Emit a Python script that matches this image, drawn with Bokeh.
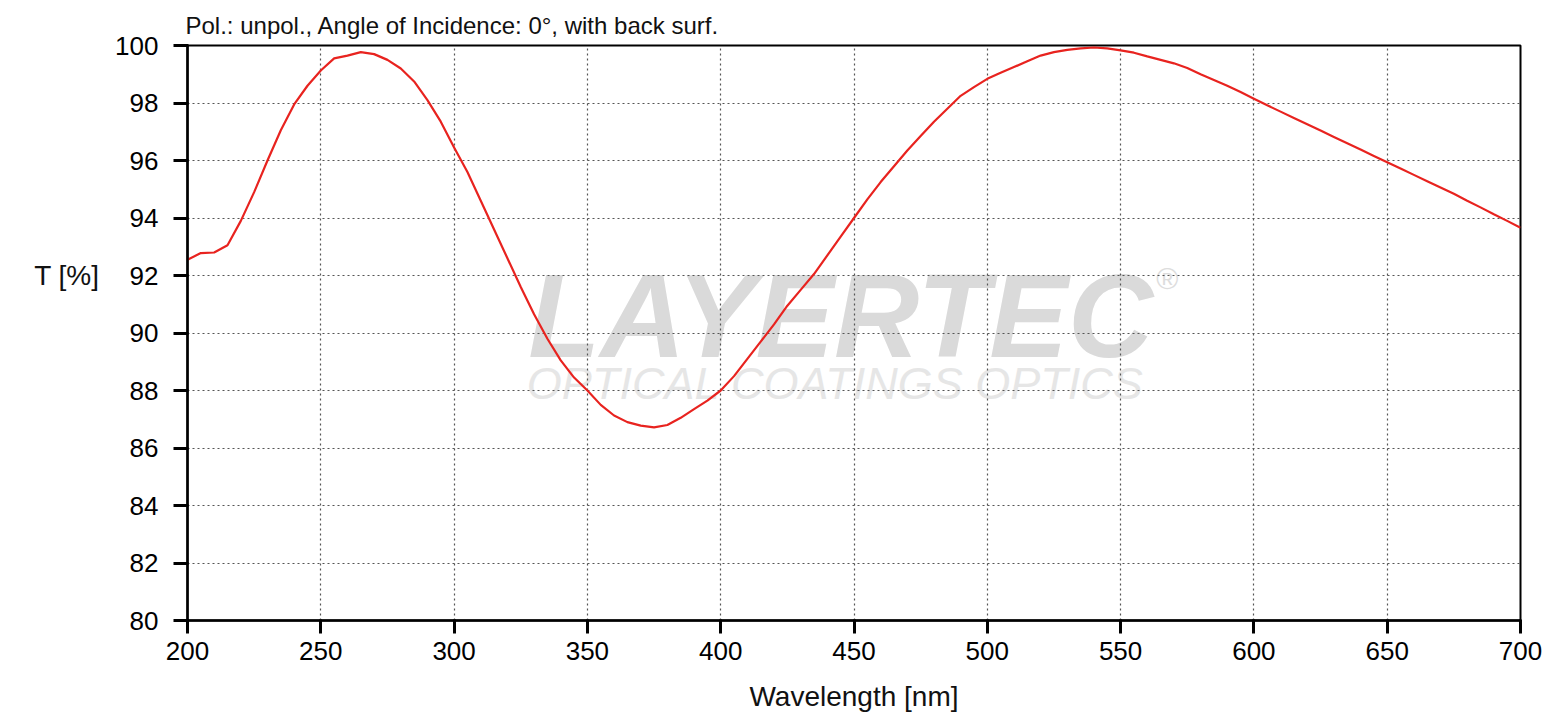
from bokeh.plotting import figure
from bokeh.models import Range1d, FixedTicker, Label, ColumnDataSource, LinearAxis
from bokeh.embed import file_html
from bokeh.resources import INLINE

# ---- data ----
wavelength = [200, 205, 210, 215, 220, 225, 230, 235, 240, 245,
              250, 255, 260, 265, 270, 275, 280, 285, 290, 295,
              300, 305, 310, 315, 320, 325, 330, 335, 340, 345,
              350, 355, 360, 365, 370, 375, 380, 385, 390, 395,
              400, 405, 410, 415, 420, 425, 430, 435, 440, 445,
              450, 455, 460, 465, 470, 475, 480, 485, 490, 495,
              500, 505, 510, 515, 520, 525, 530, 535, 540, 545,
              550, 555, 560, 565, 570, 575, 580, 585, 590, 595,
              600, 605, 610, 615, 620, 625, 630, 635, 640, 645,
              650, 655, 660, 665, 670, 675, 680, 685, 690, 695, 700]
transmission = [92.55, 92.78, 92.80, 93.05, 93.90, 94.90, 96.00, 97.05, 97.95, 98.60,
                99.13, 99.55, 99.65, 99.77, 99.70, 99.50, 99.20, 98.75, 98.10, 97.35,
                96.45, 95.60, 94.60, 93.60, 92.60, 91.60, 90.65, 89.80, 89.05, 88.45,
                88.00, 87.50, 87.13, 86.90, 86.78, 86.72, 86.80, 87.05, 87.35, 87.65,
                88.00, 88.50, 89.10, 89.70, 90.30, 90.95, 91.50, 92.05, 92.70, 93.35,
                94.00, 94.65, 95.25, 95.80, 96.35, 96.85, 97.35, 97.80, 98.25, 98.55,
                98.84, 99.05, 99.25, 99.45, 99.65, 99.77, 99.85, 99.90, 99.93, 99.90,
                99.83, 99.75, 99.62, 99.50, 99.38, 99.22, 99.00, 98.80, 98.60, 98.38,
                98.15, 97.92, 97.70, 97.48, 97.26, 97.04, 96.82, 96.60, 96.38, 96.16,
                95.94, 95.72, 95.50, 95.28, 95.06, 94.84, 94.60, 94.37, 94.13, 93.90, 93.66]
x_ticks = [200, 250, 300, 350, 400, 450, 500, 550, 600, 650, 700]
y_ticks = [80, 82, 84, 86, 88, 90, 92, 94, 96, 98, 100]
title_text = "Pol.: unpol., Angle of Incidence: 0°, with back surf."
x_label = "Wavelength [nm]"
y_label = "T [%]"
y_label_at = 92

FONT = "Liberation Sans"

p = figure(width=1553, height=714, output_backend="svg", toolbar_location=None,
           x_range=Range1d(200, 700), y_range=Range1d(80, 100),
           min_border_left=187, min_border_right=33, min_border_top=45,
           min_border_bottom=94)
p.background_fill_color = "white"
p.border_fill_color = "white"
p.outline_line_color = "black"
p.outline_line_width = 2

# title
p.title.text = title_text
p.title.align = "left"
p.title.text_font = FONT
p.title.text_font_size = "24px"
p.title.text_font_style = "normal"
p.title.text_color = "#111111"
p.title.standoff = 14
p.title.offset = -2

# grid
for g in (p.xgrid, p.ygrid):
    g.grid_line_color = "#555555"
    g.grid_line_dash = "2 3"
    g.grid_line_width = 1.2
p.xgrid.ticker = FixedTicker(ticks=x_ticks)
p.ygrid.ticker = FixedTicker(ticks=y_ticks)

# axes
xax = p.xaxis[0]
yax = p.yaxis[0]
xax.ticker = FixedTicker(ticks=x_ticks)
yax.ticker = FixedTicker(ticks=y_ticks)
for ax in (xax, yax):
    ax.axis_line_color = "black"
    ax.axis_line_width = 2.5
    ax.major_tick_line_color = "#000000"
    ax.major_tick_line_alpha = 1.0
    ax.major_tick_line_width = 3
    ax.major_tick_line_dash = "solid"
    ax.major_tick_line_cap = "butt"
    ax.major_tick_in = 1
    ax.minor_tick_line_color = None
    ax.major_label_text_font = FONT
    ax.major_label_text_font_size = "26px"
    ax.major_label_text_color = "black"
xax.major_tick_out = 13
xax.major_label_standoff = 8
yax.major_tick_out = 14
yax.major_label_standoff = 15
xax.axis_label = x_label
xax.axis_label_text_font = FONT
xax.axis_label_text_font_size = "28px"
xax.axis_label_text_font_style = "normal"
xax.axis_label_text_color = "#111111"
xax.axis_label_standoff = 18

# horizontal y-axis title: a tick-less extra axis whose only label is "T [%]"
ylab = LinearAxis(ticker=FixedTicker(ticks=[y_label_at]),
                  major_label_overrides={y_label_at: y_label},
                  axis_line_color=None, major_tick_line_color=None,
                  minor_tick_line_color=None, major_tick_out=0, major_tick_in=0,
                  major_label_text_font=FONT, major_label_text_font_size="28px",
                  major_label_text_color="#111111", major_label_standoff=13)
p.add_layout(ylab, "left")

# watermark (drawn under the grid)
wm1 = Label(x=445, y=90.6, text="LAYERTEC", text_align="center", text_baseline="alphabetic",
            text_font=FONT, text_font_size="118px", text_font_style="bold italic",
            text_color="#dadada", level="image")
wm2 = Label(x=450, y=88.25, text="OPTICAL  COATINGS   OPTICS", text_align="center",
            text_baseline="alphabetic", text_font=FONT, text_font_size="45px",
            text_font_style="italic", text_color="#e6e6e6", level="image")
wm3 = Label(x=567.5, y=91.9, text="®", text_align="center", text_baseline="middle",
            text_font=FONT, text_font_size="30px", text_color="#dddddd", level="image")
for w in (wm1, wm2, wm3):
    p.add_layout(w)

src = ColumnDataSource(data=dict(x=wavelength, y=transmission))
p.line("x", "y", source=src, line_color="#e8231f", line_width=2.2)

open("out.html", "w").write(file_html(p, INLINE))
